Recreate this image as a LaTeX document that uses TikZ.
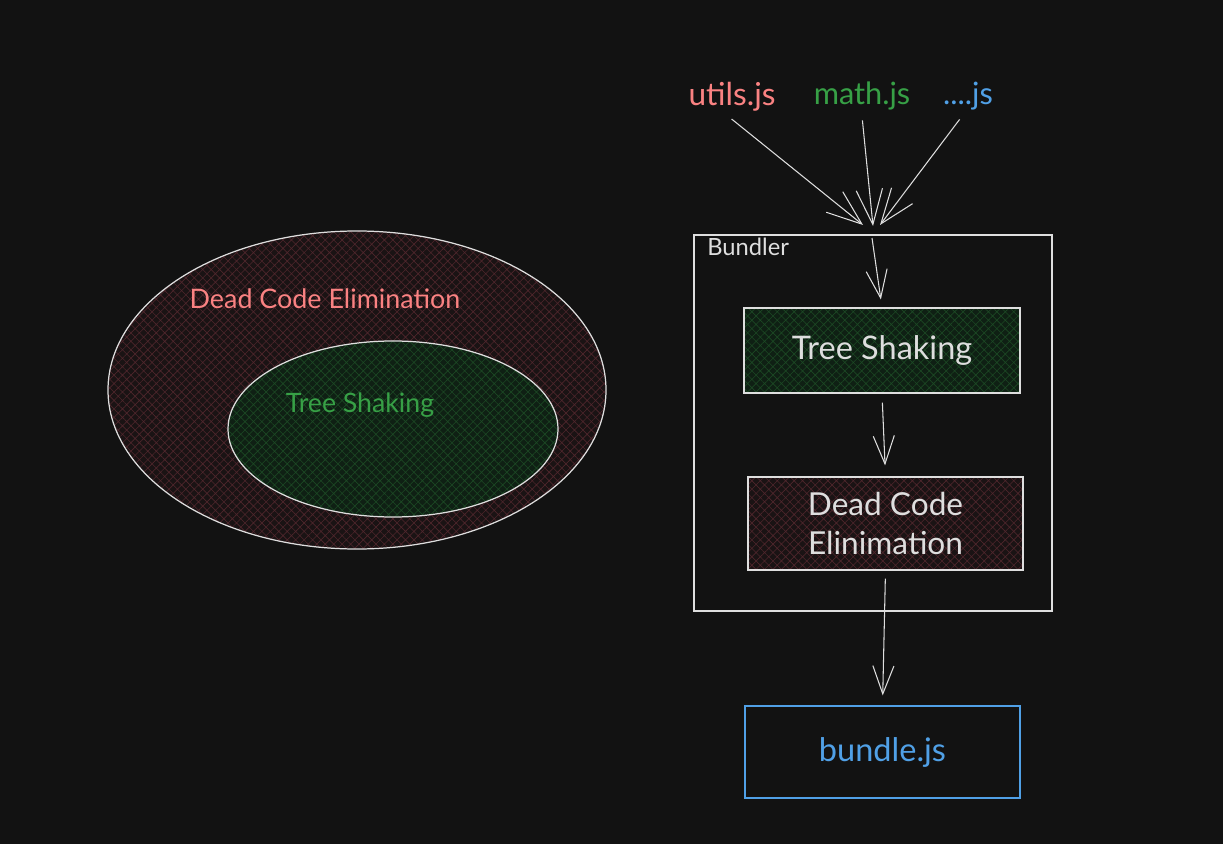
\documentclass[tikz,border=0pt]{standalone}
\usepackage{fontspec}
\setmainfont{Lato}
\usetikzlibrary{positioning, arrows.meta, patterns.meta}

\definecolor{canvas}{RGB}{18,18,18}
\definecolor{ink}{RGB}{222,222,222}
\definecolor{jsred}{RGB}{250,130,130}
\definecolor{jsgreen}{RGB}{55,160,70}
\definecolor{jsblue}{RGB}{80,160,230}
\definecolor{hatchred}{RGB}{78,38,44}
\definecolor{hatchgreen}{RGB}{28,72,36}
\definecolor{tintred}{RGB}{26,19,20}
\definecolor{tintgreen}{RGB}{15,32,20}

\tikzset{
  redhatch/.style={preaction={fill=tintred}, pattern={Hatch[angle=45,distance=3.4pt,line width=0.35pt]}, pattern color=hatchred},
  greenhatch/.style={preaction={fill=tintgreen}, pattern={Hatch[angle=45,distance=3.4pt,line width=0.35pt]}, pattern color=hatchgreen},
  box/.style={draw=ink, line width=0.7pt, inner sep=0pt, align=center, text=ink},
  feed/.style={draw=ink, line width=0.6pt, -{Straight Barb[length=20pt,width=15pt]}},
  flow/.style={draw=ink, line width=0.6pt, -{Straight Barb[length=16pt,width=12pt]}}
}

\begin{document}
\begin{tikzpicture}[x=0.02cm, y=-0.02cm]
    \fill[canvas] (0,0) rectangle (1223,844);
    \useasboundingbox (0,0) rectangle (1223,844);

    % left: nested sets
    \draw[redhatch, draw=ink, line width=0.7pt] (357,390) ellipse [x radius=249, y radius=159];
    \draw[greenhatch, draw=ink, line width=0.7pt] (393,429) ellipse [x radius=165, y radius=88];
    \node[text=jsred, font=\fontsize{15.3}{18}\selectfont] (dcelabel) at (325,299) {Dead Code Elimination};
    \node[text=jsgreen, font=\fontsize{15.2}{18}\selectfont] (tslabel) at (360,405) {Tree Shaking};

    % right: sources
    \node[text=jsred, font=\fontsize{18}{21}\selectfont] (utils) at (732,97) {utils.js};
    \node[text=jsgreen, font=\fontsize{17.5}{21}\selectfont] (math) at (862,96) {math.js};
    \node[text=jsblue, font=\fontsize{17.5}{21}\selectfont] (dots) at (968,96) {....js};

    % bundler
    \node[box, minimum width=7.16cm, minimum height=7.52cm] (bundler) at (873,423) {};
    \node[text=ink, font=\fontsize{13.5}{16}\selectfont, anchor=west, inner sep=0pt] (bundlertitle) at (707,247) {Bundler};
    \node[box, greenhatch, minimum width=5.52cm, minimum height=1.7cm, font=\fontsize{18.5}{22}\selectfont] (tree) at (882,350.5) {Tree Shaking};
    \node[box, redhatch, minimum width=5.5cm, minimum height=1.86cm, font=\fontsize{18}{22}\selectfont] (dce) at (885.5,523.5) {Dead Code\\Elinimation};
    \node[box, draw=jsblue, text=jsblue, minimum width=5.5cm, minimum height=1.84cm, font=\fontsize{18.5}{22}\selectfont] (bundle) at (882.5,752) {bundle.js};

    % connectors
    \coordinate (in1) at (863,225);
    \coordinate (in2) at (873,226);
    \coordinate (in3) at (880,225);
    \coordinate (bin) at (872,238);
    \draw[feed, shorten <=0.04cm] ([xshift=-0.04cm]utils.south) -- (in1);
    \draw[feed, shorten <=0.08cm] (math.south) -- (in2);
    \draw[feed, shorten <=0.08cm] ([xshift=-0.12cm]dots.south) -- (in3);
    \draw[flow, shorten >=0.16cm] (bin) -- (tree.north);
    \draw[flow, shorten <=0.18cm, shorten >=0.22cm] (tree.south) -- (dce.north);
    \draw[flow, shorten <=0.16cm, shorten >=0.2cm] (dce.south) -- (bundle.north);
\end{tikzpicture}
\end{document}
